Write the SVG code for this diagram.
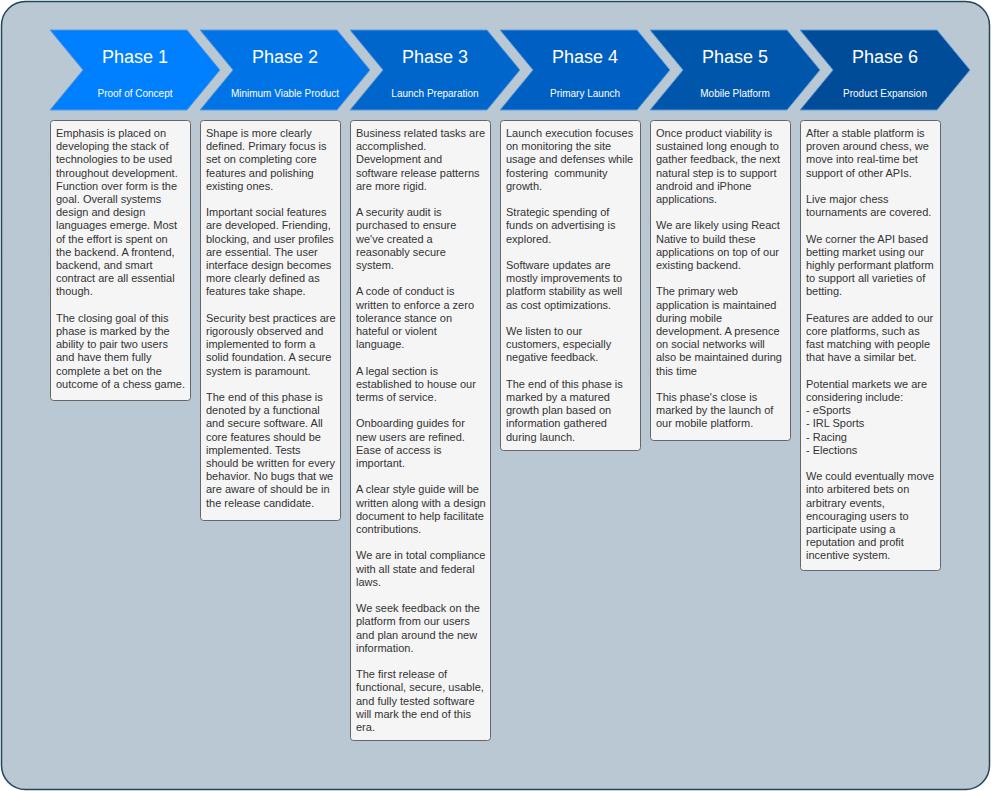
<svg xmlns="http://www.w3.org/2000/svg" width="991" height="791" viewBox="0 0 991 791">
<style>
.bg{fill:#bac8d3;stroke:#23445d;stroke-width:1.5}
.chev{stroke:#5b9ad8;stroke-width:1}
.ph{font-family:"Liberation Sans",Arial,sans-serif;font-size:18px;fill:#ffffff;text-anchor:middle}
.sub{font-family:"Liberation Sans",Arial,sans-serif;font-size:10px;fill:#ffffff;text-anchor:middle}
.box{fill:#f5f5f5;stroke:#666666;stroke-width:1}
.txt{font-family:"Liberation Sans",Arial,sans-serif;font-size:11px;fill:#333333;white-space:pre}
</style>
<rect class="bg" x="1.5" y="1.5" width="988" height="788" rx="24" ry="24"/>

<g id="phase1">
<path class="chev" fill="#007fff" d="M50,30 L187,30 L220,70 L187,110 L50,110 L83,70 Z"/>
<text class="ph" x="135" y="63">Phase 1</text>
<text class="sub" x="135" y="97">Proof of Concept</text>
</g>
<g id="phase2">
<path class="chev" fill="#0073e6" d="M200,30 L337,30 L370,70 L337,110 L200,110 L233,70 Z"/>
<text class="ph" x="285" y="63">Phase 2</text>
<text class="sub" x="285" y="97">Minimum Viable Product</text>
</g>
<g id="phase3">
<path class="chev" fill="#0066cc" d="M350,30 L487,30 L520,70 L487,110 L350,110 L383,70 Z"/>
<text class="ph" x="435" y="63">Phase 3</text>
<text class="sub" x="435" y="97">Launch Preparation</text>
</g>
<g id="phase4">
<path class="chev" fill="#005fc2" d="M500,30 L637,30 L670,70 L637,110 L500,110 L533,70 Z"/>
<text class="ph" x="585" y="63">Phase 4</text>
<text class="sub" x="585" y="97">Primary Launch</text>
</g>
<g id="phase5">
<path class="chev" fill="#0056ab" d="M650,30 L787,30 L820,70 L787,110 L650,110 L683,70 Z"/>
<text class="ph" x="735" y="63">Phase 5</text>
<text class="sub" x="735" y="97">Mobile Platform</text>
</g>
<g id="phase6">
<path class="chev" fill="#004c99" d="M800,30 L937,30 L970,70 L937,110 L800,110 L833,70 Z"/>
<text class="ph" x="885" y="63">Phase 6</text>
<text class="sub" x="885" y="97">Product Expansion</text>
</g>

<g id="desc1">
<rect class="box" x="50.5" y="120.5" width="140" height="280" rx="3"/>
<text class="txt" x="56" y="137">
<tspan x="56" dy="0">Emphasis is placed on</tspan>
<tspan x="56" dy="13.2">developing the stack of</tspan>
<tspan x="56" dy="13.2">technologies to be used</tspan>
<tspan x="56" dy="13.2">throughout development.</tspan>
<tspan x="56" dy="13.2">Function over form is the</tspan>
<tspan x="56" dy="13.2">goal. Overall systems</tspan>
<tspan x="56" dy="13.2">design and design</tspan>
<tspan x="56" dy="13.2">languages emerge. Most</tspan>
<tspan x="56" dy="13.2">of the effort is spent on</tspan>
<tspan x="56" dy="13.2">the backend. A frontend,</tspan>
<tspan x="56" dy="13.2">backend, and smart</tspan>
<tspan x="56" dy="13.2">contract are all essential</tspan>
<tspan x="56" dy="13.2">though.</tspan>
<tspan x="56" dy="26.4">The closing goal of this</tspan>
<tspan x="56" dy="13.2">phase is marked by the</tspan>
<tspan x="56" dy="13.2">ability to pair two users</tspan>
<tspan x="56" dy="13.2">and have them fully</tspan>
<tspan x="56" dy="13.2">complete a bet on the</tspan>
<tspan x="56" dy="13.2">outcome of a chess game.</tspan>
</text>
</g>

<g id="desc2">
<rect class="box" x="200.5" y="120.5" width="140" height="400" rx="3"/>
<text class="txt" x="206" y="137">
<tspan x="206" dy="0">Shape is more clearly</tspan>
<tspan x="206" dy="13.2">defined. Primary focus is</tspan>
<tspan x="206" dy="13.2">set on completing core</tspan>
<tspan x="206" dy="13.2">features and polishing</tspan>
<tspan x="206" dy="13.2">existing ones.</tspan>
<tspan x="206" dy="26.4">Important social features</tspan>
<tspan x="206" dy="13.2">are developed. Friending,</tspan>
<tspan x="206" dy="13.2">blocking, and user profiles</tspan>
<tspan x="206" dy="13.2">are essential. The user</tspan>
<tspan x="206" dy="13.2">interface design becomes</tspan>
<tspan x="206" dy="13.2">more clearly defined as</tspan>
<tspan x="206" dy="13.2">features take shape.</tspan>
<tspan x="206" dy="26.4">Security best practices are</tspan>
<tspan x="206" dy="13.2">rigorously observed and</tspan>
<tspan x="206" dy="13.2">implemented to form a</tspan>
<tspan x="206" dy="13.2">solid foundation. A secure</tspan>
<tspan x="206" dy="13.2">system is paramount.</tspan>
<tspan x="206" dy="26.4">The end of this phase is</tspan>
<tspan x="206" dy="13.2">denoted by a functional</tspan>
<tspan x="206" dy="13.2">and secure software. All</tspan>
<tspan x="206" dy="13.2">core features should be</tspan>
<tspan x="206" dy="13.2">implemented. Tests</tspan>
<tspan x="206" dy="13.2">should be written for every</tspan>
<tspan x="206" dy="13.2">behavior. No bugs that we</tspan>
<tspan x="206" dy="13.2">are aware of should be in</tspan>
<tspan x="206" dy="13.2">the release candidate.</tspan>
</text>
</g>

<g id="desc3">
<rect class="box" x="350.5" y="120.5" width="140" height="620" rx="3"/>
<text class="txt" x="356" y="137">
<tspan x="356" dy="0">Business related tasks are</tspan>
<tspan x="356" dy="13.2">accomplished.</tspan>
<tspan x="356" dy="13.2">Development and</tspan>
<tspan x="356" dy="13.2">software release patterns</tspan>
<tspan x="356" dy="13.2">are more rigid.</tspan>
<tspan x="356" dy="26.4">A security audit is</tspan>
<tspan x="356" dy="13.2">purchased to ensure</tspan>
<tspan x="356" dy="13.2">we've created a</tspan>
<tspan x="356" dy="13.2">reasonably secure</tspan>
<tspan x="356" dy="13.2">system.</tspan>
<tspan x="356" dy="26.4">A code of conduct is</tspan>
<tspan x="356" dy="13.2">written to enforce a zero</tspan>
<tspan x="356" dy="13.2">tolerance stance on</tspan>
<tspan x="356" dy="13.2">hateful or violent</tspan>
<tspan x="356" dy="13.2">language.</tspan>
<tspan x="356" dy="26.4">A legal section is</tspan>
<tspan x="356" dy="13.2">established to house our</tspan>
<tspan x="356" dy="13.2">terms of service.</tspan>
<tspan x="356" dy="26.4">Onboarding guides for</tspan>
<tspan x="356" dy="13.2">new users are refined.</tspan>
<tspan x="356" dy="13.2">Ease of access is</tspan>
<tspan x="356" dy="13.2">important.</tspan>
<tspan x="356" dy="26.4">A clear style guide will be</tspan>
<tspan x="356" dy="13.2">written along with a design</tspan>
<tspan x="356" dy="13.2">document to help facilitate</tspan>
<tspan x="356" dy="13.2">contributions.</tspan>
<tspan x="356" dy="26.4">We are in total compliance</tspan>
<tspan x="356" dy="13.2">with all state and federal</tspan>
<tspan x="356" dy="13.2">laws.</tspan>
<tspan x="356" dy="26.4">We seek feedback on the</tspan>
<tspan x="356" dy="13.2">platform from our users</tspan>
<tspan x="356" dy="13.2">and plan around the new</tspan>
<tspan x="356" dy="13.2">information.</tspan>
<tspan x="356" dy="26.4">The first release of</tspan>
<tspan x="356" dy="13.2">functional, secure, usable,</tspan>
<tspan x="356" dy="13.2">and fully tested software</tspan>
<tspan x="356" dy="13.2">will mark the end of this</tspan>
<tspan x="356" dy="13.2">era.</tspan>
</text>
</g>

<g id="desc4">
<rect class="box" x="500.5" y="120.5" width="140" height="330" rx="3"/>
<text class="txt" x="506" y="137">
<tspan x="506" dy="0">Launch execution focuses</tspan>
<tspan x="506" dy="13.2">on monitoring the site</tspan>
<tspan x="506" dy="13.2">usage and defenses while</tspan>
<tspan x="506" dy="13.2">fostering  community</tspan>
<tspan x="506" dy="13.2">growth.</tspan>
<tspan x="506" dy="26.4">Strategic spending of</tspan>
<tspan x="506" dy="13.2">funds on advertising is</tspan>
<tspan x="506" dy="13.2">explored.</tspan>
<tspan x="506" dy="26.4">Software updates are</tspan>
<tspan x="506" dy="13.2">mostly improvements to</tspan>
<tspan x="506" dy="13.2">platform stability as well</tspan>
<tspan x="506" dy="13.2">as cost optimizations.</tspan>
<tspan x="506" dy="26.4">We listen to our</tspan>
<tspan x="506" dy="13.2">customers, especially</tspan>
<tspan x="506" dy="13.2">negative feedback.</tspan>
<tspan x="506" dy="26.4">The end of this phase is</tspan>
<tspan x="506" dy="13.2">marked by a matured</tspan>
<tspan x="506" dy="13.2">growth plan based on</tspan>
<tspan x="506" dy="13.2">information gathered</tspan>
<tspan x="506" dy="13.2">during launch.</tspan>
</text>
</g>

<g id="desc5">
<rect class="box" x="650.5" y="120.5" width="140" height="320" rx="3"/>
<text class="txt" x="656" y="137">
<tspan x="656" dy="0">Once product viability is</tspan>
<tspan x="656" dy="13.2">sustained long enough to</tspan>
<tspan x="656" dy="13.2">gather feedback, the next</tspan>
<tspan x="656" dy="13.2">natural step is to support</tspan>
<tspan x="656" dy="13.2">android and iPhone</tspan>
<tspan x="656" dy="13.2">applications.</tspan>
<tspan x="656" dy="26.4">We are likely using React</tspan>
<tspan x="656" dy="13.2">Native to build these</tspan>
<tspan x="656" dy="13.2">applications on top of our</tspan>
<tspan x="656" dy="13.2">existing backend.</tspan>
<tspan x="656" dy="26.4">The primary web</tspan>
<tspan x="656" dy="13.2">application is maintained</tspan>
<tspan x="656" dy="13.2">during mobile</tspan>
<tspan x="656" dy="13.2">development. A presence</tspan>
<tspan x="656" dy="13.2">on social networks will</tspan>
<tspan x="656" dy="13.2">also be maintained during</tspan>
<tspan x="656" dy="13.2">this time</tspan>
<tspan x="656" dy="26.4">This phase's close is</tspan>
<tspan x="656" dy="13.2">marked by the launch of</tspan>
<tspan x="656" dy="13.2">our mobile platform.</tspan>
</text>
</g>

<g id="desc6">
<rect class="box" x="800.5" y="120.5" width="140" height="450" rx="3"/>
<text class="txt" x="806" y="137">
<tspan x="806" dy="0">After a stable platform is</tspan>
<tspan x="806" dy="13.2">proven around chess, we</tspan>
<tspan x="806" dy="13.2">move into real-time bet</tspan>
<tspan x="806" dy="13.2">support of other APIs.</tspan>
<tspan x="806" dy="26.4">Live major chess</tspan>
<tspan x="806" dy="13.2">tournaments are covered.</tspan>
<tspan x="806" dy="26.4">We corner the API based</tspan>
<tspan x="806" dy="13.2">betting market using our</tspan>
<tspan x="806" dy="13.2">highly performant platform</tspan>
<tspan x="806" dy="13.2">to support all varieties of</tspan>
<tspan x="806" dy="13.2">betting.</tspan>
<tspan x="806" dy="26.4">Features are added to our</tspan>
<tspan x="806" dy="13.2">core platforms, such as</tspan>
<tspan x="806" dy="13.2">fast matching with people</tspan>
<tspan x="806" dy="13.2">that have a similar bet.</tspan>
<tspan x="806" dy="26.4">Potential markets we are</tspan>
<tspan x="806" dy="13.2">considering include:</tspan>
<tspan x="806" dy="13.2">- eSports</tspan>
<tspan x="806" dy="13.2">- IRL Sports</tspan>
<tspan x="806" dy="13.2">- Racing</tspan>
<tspan x="806" dy="13.2">- Elections</tspan>
<tspan x="806" dy="26.4">We could eventually move</tspan>
<tspan x="806" dy="13.2">into arbitered bets on</tspan>
<tspan x="806" dy="13.2">arbitrary events,</tspan>
<tspan x="806" dy="13.2">encouraging users to</tspan>
<tspan x="806" dy="13.2">participate using a</tspan>
<tspan x="806" dy="13.2">reputation and profit</tspan>
<tspan x="806" dy="13.2">incentive system.</tspan>
</text>
</g>

<g id="connectors"></g>
</svg>
